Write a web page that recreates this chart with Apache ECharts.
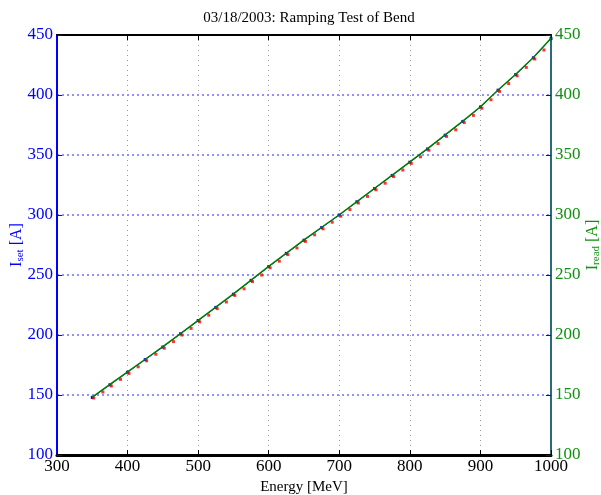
<!DOCTYPE html>
<html><head><meta charset="utf-8">
<script src="https://cdn.jsdelivr.net/npm/echarts@6/dist/echarts.min.js"></script>
<style>html,body{margin:0;padding:0;background:#fff}#c{width:601px;height:495px}</style>
</head><body><div id="c"></div>
<script>
var energy = [350,375,400,425,450,475,500,525,550,575,600,625,650,675,700,725,750,775,800,825,850,875,900,925,950,975,1000];
var iSet   = [148,158.5,169,179.5,190,201,212,223,234,245.5,257,268,279,289.5,300,311,322,333,344,355,366.5,378,390,404,417,431,447];
var iRead  = [148.3,158.8,169.2,179.8,190.3,201.2,212.2,223.3,234.2,245.7,257.2,268.2,279.2,289.8,300.2,311.2,322.3,333.2,344.2,355.3,366.7,378.2,390.2,404.2,417.3,431.2,447.3];
var energyRed = [352,365,377,390,402,415,427,440,452,465,477,490,502,515,527,540,552,565,577,590,602,615,627,640,652,665,677,690,702,715,727,740,752,765,777,790,802,815,827,840,852,865,877,890,902,915,927,940,952,965,977,990];
var iRed   = [147.5,152.5,157.5,163,168,173.5,178.5,184,189,194.5,200,205.5,211,216.5,222,227.5,233,238.5,244.5,250,256,261.5,267,272.5,278,283.5,288.5,294,299,304.5,310,315.5,321,326.5,332,337.5,343,348.5,354,359.5,365.5,371,377,383,389,396,403,409.5,416,423,430,437.5];
var titleText = '03/18/2003: Ramping Test of Bend';
var xName = 'Energy [MeV]';

function pairs(xs, ys){ return xs.map(function(x,i){ return [x, ys[i]]; }); }
var F = '"Liberation Serif","DejaVu Serif",serif';
var chart = echarts.init(document.getElementById('c'));
chart.setOption({
  animation:false,
  backgroundColor:'#fff',
  title:{text:titleText,left:304,top:6,textAlign:'center',textStyle:{fontFamily:F,fontSize:15,fontWeight:'normal',color:'#000'}},
  grid:{left:57,right:50,top:35,bottom:40,show:false,containLabel:false,outerBoundsMode:'none'},
  xAxis:[{
    type:'value',min:300,max:1000,interval:100,position:'bottom',
    name:xName,nameLocation:'middle',nameGap:25,nameMoveOverlap:false,
    nameTextStyle:{fontFamily:F,fontSize:15,color:'#000'},
    axisLine:{onZero:false,lineStyle:{color:'#000',width:3}},
    axisTick:{inside:true,length:5,lineStyle:{color:'#000'}},
    axisLabel:{fontFamily:F,fontSize:17,color:'#000',margin:3,formatter:function(v){return String(v);}},
    splitLine:{show:true,lineStyle:{color:'#999',type:[1,4],width:1}}
  },{
    type:'value',min:300,max:1000,interval:100,position:'top',
    axisLine:{onZero:false,lineStyle:{color:'#000',width:2}},
    axisTick:{inside:true,length:5,lineStyle:{color:'#000'}},
    axisLabel:{show:false},splitLine:{show:false}
  }],
  yAxis:[{
    type:'value',min:100,max:450,interval:50,position:'left',
    name:'{i|I}{s|set}{i| [A]}',nameLocation:'middle',nameGap:31,nameRotate:90,nameMoveOverlap:false,
    nameTextStyle:{rich:{i:{fontFamily:F,fontSize:16,color:'#0000ff'},s:{fontFamily:F,fontSize:11,color:'#0000ff',verticalAlign:'bottom',padding:[8,0,0,0]}}},
    axisLine:{onZero:false,lineStyle:{color:'#0000ff',width:2}},
    axisTick:{inside:true,length:5,lineStyle:{color:'#0000ff'}},
    axisLabel:{fontFamily:F,fontSize:17,color:'#0000ff',margin:4},
    splitLine:{show:false}
  },{
    type:'value',min:100,max:450,interval:50,position:'right',
    name:'{i|I}{s|read}{i| [A]}',nameLocation:'middle',nameGap:32,nameRotate:90,nameMoveOverlap:false,
    nameTextStyle:{rich:{i:{fontFamily:F,fontSize:16,color:'#109010'},s:{fontFamily:F,fontSize:11,color:'#109010',verticalAlign:'bottom',padding:[8,0,0,0]}}},
    axisLine:{onZero:false,lineStyle:{color:'#2a6a7a',width:2}},
    axisTick:{inside:true,length:5,lineStyle:{color:'#0000ff'}},
    axisLabel:{fontFamily:F,fontSize:17,color:'#109010',margin:4},
    splitLine:{show:true,lineStyle:{color:'#6f6fff',type:[2,3],width:1.5}}
  }],
  series:[
    {type:'line',xAxisIndex:0,yAxisIndex:0,data:pairs(energy,iSet),symbol:'rect',symbolSize:3,
     itemStyle:{color:'#0000ff'},lineStyle:{color:'#0000ff',width:1},z:2},
    {type:'scatter',xAxisIndex:0,yAxisIndex:0,data:pairs(energyRed,iRed),symbol:'rect',symbolSize:3,
     itemStyle:{color:'#ff0000'},z:3},
    {type:'line',xAxisIndex:0,yAxisIndex:1,data:pairs(energy,iRead),symbol:'none',
     lineStyle:{color:'#008000',width:1.5},z:4}
  ]
});
</script></body></html>
